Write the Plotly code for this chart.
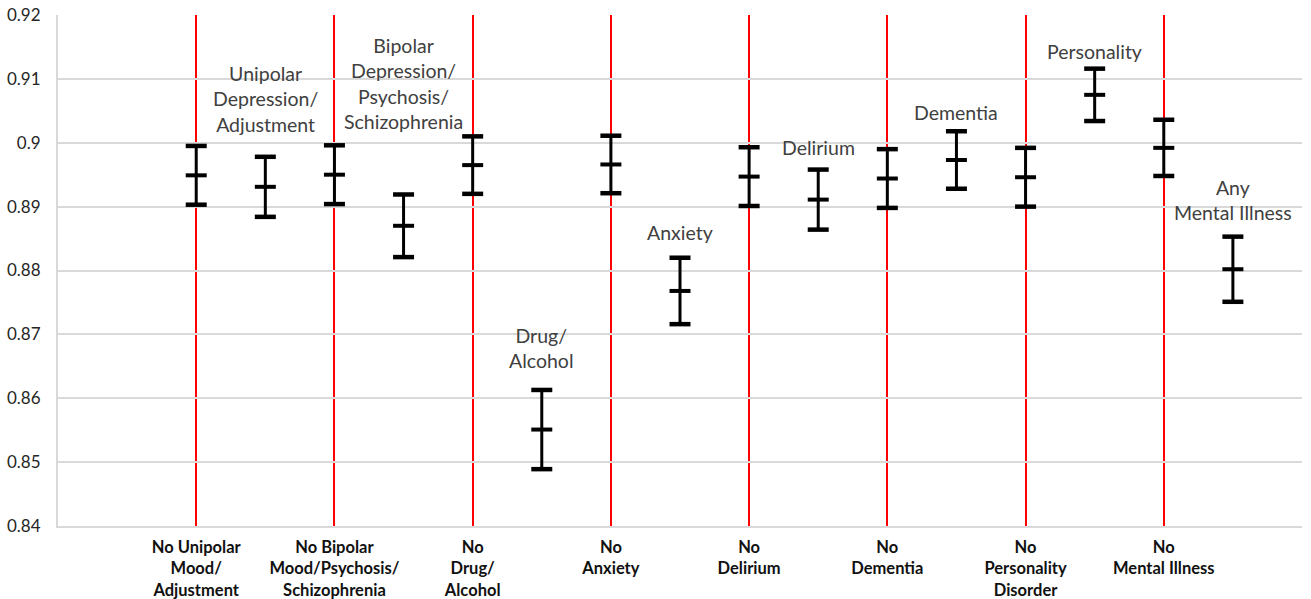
import plotly.graph_objects as go

# --- data ---
no_labels = ["No Unipolar<br>Mood/<br>Adjustment",
             "No Bipolar<br>Mood/Psychosis/<br>Schizophrenia",
             "No<br>Drug/<br>Alcohol",
             "No<br>Anxiety",
             "No<br>Delirium",
             "No<br>Dementia",
             "No<br>Personality<br>Disorder",
             "No<br>Mental Illness"]
with_labels = ["Unipolar<br>Depression/<br>Adjustment",
               "Bipolar<br>Depression/<br>Psychosis/<br>Schizophrenia",
               "Drug/<br>Alcohol",
               "Anxiety",
               "Delirium",
               "Dementia",
               "Personality",
               "Any<br>Mental Illness"]
no_mean = [0.8949, 0.8950, 0.8965, 0.8966, 0.8947, 0.8944, 0.8946, 0.8992]
no_err = [0.0046, 0.0046, 0.0045, 0.0045, 0.0046, 0.0046, 0.0046, 0.0044]
with_mean = [0.8931, 0.8870, 0.8551, 0.8768, 0.8911, 0.8973, 0.9075, 0.8802]
with_err = [0.0047, 0.0049, 0.0062, 0.0052, 0.0047, 0.0045, 0.0041, 0.0051]
# vertical centre (in axis units) of each condition's text label
label_y = [0.9068, 0.9092, 0.8679, 0.8859, 0.8992, 0.9048, 0.9143, 0.8910]

y_ticks = [0.84, 0.85, 0.86, 0.87, 0.88, 0.89, 0.90, 0.91, 0.92]
y_tick_text = ["0.84", "0.85", "0.86", "0.87", "0.88", "0.89", "0.9", "0.91", "0.92"]

# interleave: "No X" at even positions, "X" at odd positions
xs, ys, es = [], [], []
for i in range(len(no_mean)):
    xs += [2 * i, 2 * i + 1]
    ys += [no_mean[i], with_mean[i]]
    es += [no_err[i], with_err[i]]

fig = go.Figure()
# error bar stems + mean markers
fig.add_trace(go.Scatter(
    x=xs, y=ys, mode="markers",
    marker=dict(symbol="line-ew", size=15, color="black",
                line=dict(width=4, color="black")),
    error_y=dict(type="data", array=es, visible=True, color="black",
                 thickness=3, width=0),
    showlegend=False, hoverinfo="x+y"))
# caps
fig.add_trace(go.Scatter(
    x=xs + xs, y=[y + e for y, e in zip(ys, es)] + [y - e for y, e in zip(ys, es)],
    mode="markers",
    marker=dict(symbol="line-ew", size=15, color="black",
                line=dict(width=4.5, color="black")),
    showlegend=False, hoverinfo="skip"))

for i, lab in enumerate(with_labels):
    fig.add_annotation(x=2 * i + 1, y=label_y[i], text=lab, showarrow=False,
                       xanchor="center", yanchor="middle",
                       font=dict(family="Lato", size=19.5, color="#404040"))

tickvals = [2 * i for i in range(len(no_labels))] + [2 * len(no_labels)]
ticktext = [f"<b>{t}</b>" for t in no_labels] + [""]

fig.update_layout(
    width=1311, height=599,
    margin=dict(l=58, r=9, t=15, b=73),
    paper_bgcolor="white", plot_bgcolor="white",
    font=dict(family="Lato", color="#000000"),
    xaxis=dict(range=[-2, 16], tickmode="array", tickvals=tickvals, ticktext=ticktext,
               showgrid=True, gridcolor="#ff0000", gridwidth=2,
               showline=True, linecolor="#d9d9d9", linewidth=2,
               ticks="", zeroline=False, automargin=False, ticklabelstandoff=5,
               tickfont=dict(family="Lato", size=16.5, color="#111111")),
    yaxis=dict(range=[0.84, 0.92], tickmode="array", tickvals=y_ticks, ticktext=y_tick_text,
               showgrid=True, gridcolor="#d9d9d9", gridwidth=2,
               showline=True, linecolor="#d9d9d9", linewidth=2,
               ticks="", zeroline=False, ticklabelstandoff=12, automargin=False,
               ticklabeloverflow="allow",
               tickfont=dict(family="Lato", size=17, color="#262626")),
)

fig.write_html("out.html", config={"displayModeBar": False},
               post_script="document.body.style.margin='0';document.body.style.overflow='hidden';")
